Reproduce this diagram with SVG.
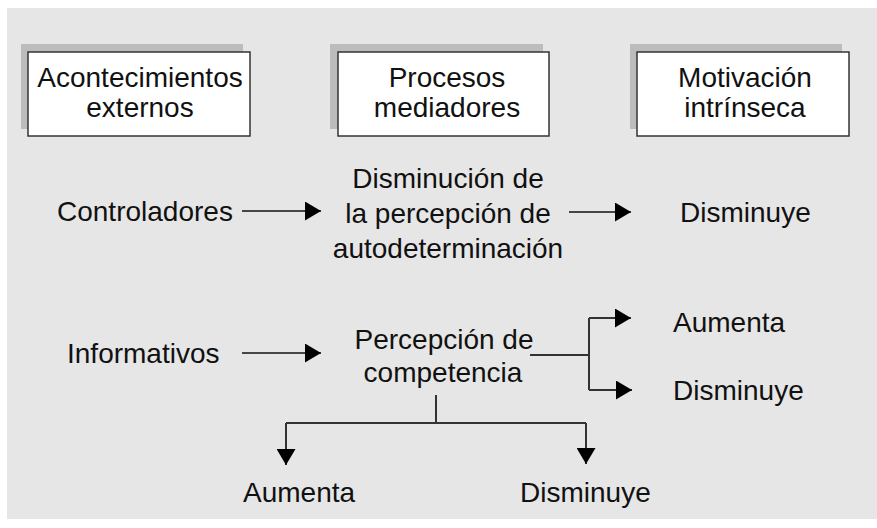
<svg xmlns="http://www.w3.org/2000/svg" width="877" height="528" viewBox="0 0 877 528">
<style>
.t{font-family:"Liberation Sans",Arial,sans-serif;font-size:28px;fill:#111}
.m{text-anchor:middle}
.box{fill:#fff;stroke:#333;stroke-width:1.5}
.sh{fill:#bcbcbc}
.ln{fill:none;stroke:#111;stroke-width:1.5}
.br{fill:none;stroke:#333;stroke-width:2}
</style>
<defs>
<marker id="ah" viewBox="0 0 16 19" refX="16" refY="9.5" markerWidth="16" markerHeight="19" markerUnits="userSpaceOnUse" orient="auto">
<path d="M0,0 L16,9.5 L0,19 z" fill="#000"/>
</marker>
</defs>
<rect x="7" y="8" width="870" height="511" fill="#e6e6e6"/>
<g id="n-acontecimientos">
<rect class="sh" x="21" y="44" width="222" height="85"/>
<rect class="box" x="28" y="52" width="222" height="84"/>
<text class="t m" x="140" y="87">Acontecimientos</text>
<text class="t m" x="140" y="117">externos</text>
</g>
<g id="n-procesos">
<rect class="sh" x="330" y="44" width="213" height="85"/>
<rect class="box" x="338" y="52" width="211" height="84"/>
<text class="t m" x="447" y="87">Procesos</text>
<text class="t m" x="447" y="117">mediadores</text>
</g>
<g id="n-motivacion">
<rect class="sh" x="630" y="44" width="212" height="85"/>
<rect class="box" x="637" y="52" width="212" height="84"/>
<text class="t m" x="745" y="87">Motivación</text>
<text class="t m" x="745" y="117">intrínseca</text>
</g>
<g id="n-controladores"><text class="t" x="57" y="221">Controladores</text></g>
<g id="n-disminucion">
<text class="t m" x="448" y="188">Disminución de</text>
<text class="t m" x="448" y="223">la percepción de</text>
<text class="t m" x="448" y="258">autodeterminación</text>
</g>
<g id="n-disminuye1"><text class="t" x="680" y="222">Disminuye</text></g>
<g id="n-informativos"><text class="t" x="67" y="363">Informativos</text></g>
<g id="n-percepcion">
<text class="t m" x="444" y="349">Percepción de</text>
<text class="t m" x="443" y="382">competencia</text>
</g>
<g id="n-aumenta-r"><text class="t" x="673" y="332">Aumenta</text></g>
<g id="n-disminuye-r"><text class="t" x="673" y="400">Disminuye</text></g>
<g id="n-aumenta-b"><text class="t" x="243" y="502">Aumenta</text></g>
<g id="n-disminuye-b"><text class="t" x="520" y="502">Disminuye</text></g>
<g id="connectors">
<path class="ln" d="M242,211 L321,211" marker-end="url(#ah)"/>
<path class="ln" d="M569,212 L631,212" marker-end="url(#ah)"/>
<path class="ln" d="M242,353 L321,353" marker-end="url(#ah)"/>
<path class="br" d="M530,355 L589,355 M589,318 L589,390"/>
<path class="br" d="M589,318 L631,318" marker-end="url(#ah)"/>
<path class="br" d="M589,390 L632,390" marker-end="url(#ah)"/>
<path class="br" d="M436,395 L436,423 M286,423 L586,423"/>
<path class="br" d="M286,423 L286,465" marker-end="url(#ah)"/>
<path class="br" d="M586,423 L586,464" marker-end="url(#ah)"/>
</g>
</svg>
